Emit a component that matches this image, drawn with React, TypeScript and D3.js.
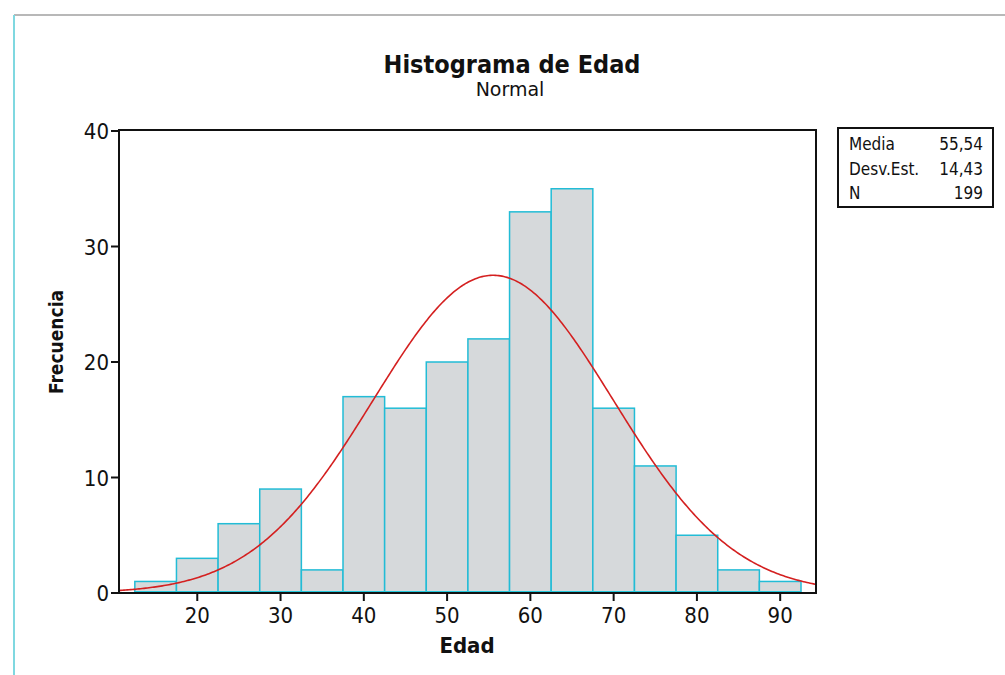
import React from "react";
import * as d3 from "d3";

const binStarts = [12.5, 17.5, 22.5, 27.5, 32.5, 37.5, 42.5, 47.5, 52.5, 57.5, 62.5, 67.5, 72.5, 77.5, 82.5, 87.5];
const binWidth = 5;
const counts = [1, 3, 6, 9, 2, 17, 16, 20, 22, 33, 35, 16, 11, 5, 2, 1];
const xTicks = [20, 30, 40, 50, 60, 70, 80, 90];
const yTicks = [0, 10, 20, 30, 40];
const statLabels = ["Media", "Desv.Est.", "N"];
const statValues = ["55,54", "14,43", "199"];
const mean = 55.54;
const sd = 14.43;
const n = 199;

const W = 1005;
const H = 675;
const L = 119, R = 816, T = 130, B = 593;

export default function App() {
  const x = d3.scaleLinear().domain([10.6, 94.3]).range([L, R]);
  const y = d3.scaleLinear().domain([0, 40]).range([B, 131]);
  const pdf = (v: number) =>
    (n * binWidth) / (sd * Math.sqrt(2 * Math.PI)) * Math.exp(-0.5 * ((v - mean) / sd) ** 2);
  const xs = d3.range(10.6, 94.31, 0.2);
  const line = d3.line<number>().x((v) => x(v)).y((v) => y(pdf(v)));
  const font = "'DejaVu Sans Condensed', 'DejaVu Sans', sans-serif";

  return (
    <svg width={W} height={H} style={{ position: "absolute", left: 0, top: 0, background: "#fff" }} fontFamily={font}>
      <rect x={0} y={0} width={W} height={H} fill="#fff" />
      <line x1={14} x2={W} y1={15} y2={15} stroke="#b8b8b8" strokeWidth={2} />
      <line x1={14} x2={14} y1={15} y2={H} stroke="#7fd8e0" strokeWidth={2} />
      <text x={512} y={73} textAnchor="middle" fontSize={25} fontWeight="bold" fill="#111">Histograma de Edad</text>
      <text x={510} y={96} textAnchor="middle" fontSize={19} fontFamily="'DejaVu Sans', sans-serif" fill="#111">Normal</text>

      {counts.map((c, i) => (
        <rect key={i} x={x(binStarts[i])} y={y(c)} width={x(binStarts[i] + binWidth) - x(binStarts[i])} height={y(0) - y(c)}
          fill="#d6d9db" stroke="#22bcd6" strokeWidth={1.5} />
      ))}
      <line x1={x(binStarts[0])} x2={x(binStarts[binStarts.length - 1] + binWidth)} y1={B - 1} y2={B - 1} stroke="#22c8dc" strokeWidth={2} />
      <path d={line(xs) || ""} fill="none" stroke="#d42020" strokeWidth={1.6} />

      <rect x={L} y={T} width={R - L} height={B - T} fill="none" stroke="#111" strokeWidth={2} />
      {yTicks.map((t) => (
        <g key={t}>
          <line x1={L - 8} x2={L} y1={y(t)} y2={y(t)} stroke="#111" strokeWidth={2} />
          <text x={L - 10} y={y(t) + 8} textAnchor="end" fontSize={22} fill="#111">{t}</text>
        </g>
      ))}
      {xTicks.map((t) => (
        <g key={t}>
          <line x1={x(t)} x2={x(t)} y1={B} y2={B + 8} stroke="#111" strokeWidth={2} />
          <text x={x(t)} y={B + 30} textAnchor="middle" fontSize={22} fill="#111">{t}</text>
        </g>
      ))}
      <text x={467} y={653} textAnchor="middle" fontSize={22} fontWeight="bold" fill="#111">Edad</text>
      <text transform={`translate(63,342) rotate(-90)`} textAnchor="middle" fontSize={19} fontWeight="bold" fill="#111">Frecuencia</text>

      <rect x={838} y={128} width={155} height={79} fill="#fff" stroke="#111" strokeWidth={2} />
      {statLabels.map((s, i) => (
        <g key={s}>
          <text x={849} y={150 + i * 24.5} fontSize={17} fill="#111">{s}</text>
          <text x={983} y={150 + i * 24.5} textAnchor="end" fontSize={17} fill="#111">{statValues[i]}</text>
        </g>
      ))}
    </svg>
  );
}
